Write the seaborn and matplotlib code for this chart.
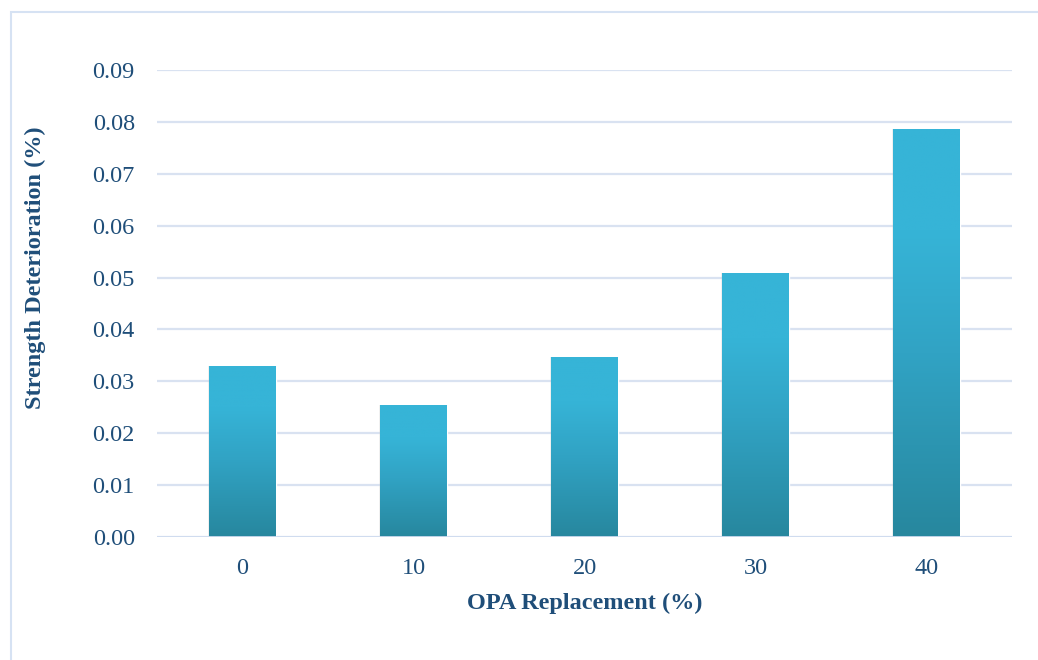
import numpy as np
import pandas as pd
import matplotlib
matplotlib.use("Agg")
import matplotlib.pyplot as plt
from matplotlib.colors import LinearSegmentedColormap
from matplotlib.patches import Rectangle
import seaborn as sns

categories = ["0", "10", "20", "30", "40"]
values = [0.0330, 0.0254, 0.0347, 0.0509, 0.0786]
yticks = [0.00, 0.01, 0.02, 0.03, 0.04, 0.05, 0.06, 0.07, 0.08, 0.09]

sns.set_theme(style="white")
plt.rcParams['font.family'] = ['Liberation Serif', 'DejaVu Serif']

text_color = "#1F4E79"
grid_color = "#D9E2F1"
top_color = "#36B4D7"
mid_color = "#31A3C4"
bottom_color = "#27879E"

fig = plt.figure(figsize=(10.38, 6.6), dpi=100)
ax = fig.add_axes([157/1038, 1-537/660, (1012-157)/1038, (537-70)/660])

df = pd.DataFrame({"cat": categories, "val": values})
sns.barplot(data=df, x="cat", y="val", ax=ax, color=top_color, width=0.39,
            saturation=1, zorder=3)

ax.set_ylim(0, 0.09)
ax.set_xlim(-0.5, 4.5)
ax.set_yticks(yticks)
ax.set_yticklabels([f"{t:.2f}" for t in yticks])
ax.yaxis.grid(True, color=grid_color, linewidth=1.6, zorder=0)
ax.set_axisbelow(True)
for s in ax.spines.values():
    s.set_visible(False)
ax.tick_params(axis='both', length=0, labelsize=17.5, labelcolor=text_color)
ax.tick_params(axis='y', pad=16)
ax.tick_params(axis='x', pad=15)
ax.set_xlabel("OPA Replacement (%)", fontsize=17.5, fontweight='bold',
              color=text_color, labelpad=10)
ax.set_ylabel("Strength Deterioration (%)", fontsize=17.5, fontweight='bold',
              color=text_color)
ax.yaxis.set_label_coords((46 - 157) / 855, (537 - 268) / 467)

cmap = LinearSegmentedColormap.from_list(
    "g", [(0, bottom_color), (0.45, mid_color), (0.75, top_color), (1, top_color)])
grad = np.linspace(0, 1, 256).reshape(-1, 1)
for p in ax.patches:
    x0, y0 = p.get_x(), p.get_y()
    w, h = p.get_width(), p.get_height()
    sh = Rectangle((x0 - 0.006, y0 - 0.0005), w + 0.012, h + 0.0005,
                   facecolor="#000000", alpha=0.07, edgecolor="none", zorder=2)
    ax.add_patch(sh)
    im = ax.imshow(grad, extent=[x0, x0 + w, y0, y0 + h], origin='lower',
                   aspect='auto', cmap=cmap, zorder=4)
    im.set_clip_path(p)
ax.set_xlim(-0.5, 4.5)
ax.set_ylim(0, 0.09)

ax.axhline(0, color="#D0DCEF", linewidth=2, zorder=5)

fig.patches.append(Rectangle((11/1038, -0.01), 1.02, 1 - 12/660 + 0.01,
                             transform=fig.transFigure, fill=False,
                             edgecolor="#D6E2F3", linewidth=1.5))

fig.savefig("out.png", dpi=100, facecolor="white")
